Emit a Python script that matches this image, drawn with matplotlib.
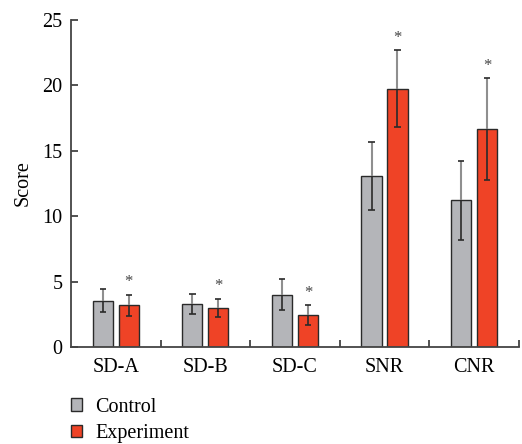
import numpy as np
import matplotlib.pyplot as plt

plt.rcParams['font.family'] = 'Liberation Serif'

categories = ['SD-A', 'SD-B', 'SD-C', 'SNR', 'CNR']
control = [3.55, 3.3, 4.0, 13.1, 11.2]
control_err = [0.85, 0.75, 1.2, 2.6, 3.0]
experiment = [3.2, 3.0, 2.45, 19.75, 16.65]
experiment_err = [0.8, 0.7, 0.78, 2.97, 3.9]
significant = [True, True, True, True, True]

gray = '#b4b5b9'
red = '#ef4326'
edge = '#2a2a2a'

fig = plt.figure(figsize=(5.22, 4.44), dpi=100)
ax = fig.add_axes([0.136, 0.2185, 0.858, 0.7365])

x = np.arange(len(categories))
w = 0.225
off = 0.145

def draw_group(pos, vals, errs, color, label):
    ax.bar(pos, vals, w, color=color, edgecolor=edge, linewidth=1.0, label=label, zorder=2)
    vals = np.array(vals)
    errs = np.array(errs)
    # lower part of whisker inside the bar, upper part lighter
    ax.vlines(pos, vals - errs, vals, color=edge, linewidth=1.2, zorder=3)
    ax.vlines(pos, vals, vals + errs, color='#8f8f8f', linewidth=1.5, zorder=3)
    cw = 0.035
    ax.hlines(vals + errs, pos - cw, pos + cw, color=edge, linewidth=1.2, zorder=4)
    ax.hlines(vals - errs, pos - cw, pos + cw, color=edge, linewidth=1.2, zorder=4)

draw_group(x - off, control, control_err, gray, 'Control')
draw_group(x + off, experiment, experiment_err, red, 'Experiment')

for xi, v, e, s in zip(x + off, experiment, experiment_err, significant):
    if s:
        ax.annotate('*', (xi, v + e), xytext=(0, 3), textcoords='offset points',
                    ha='center', va='bottom', fontsize=12, color='#444444')

ax.set_xlim(-0.5, 4.5)
ax.set_ylim(0, 25)
ax.set_yticks([0, 5, 10, 15, 20, 25])
ax.set_xticks(x)
ax.set_xticklabels(categories)
ax.set_xticks(x + 0.5, minor=True)
ax.tick_params(axis='x', which='major', length=0, pad=8, labelsize=14.5)
ax.tick_params(axis='x', which='minor', direction='in', length=5, width=1.2, color='#333333')
ax.tick_params(axis='y', direction='in', length=5, width=1.2, color='#333333', labelsize=14.5, pad=6)
for sp in ['top', 'right']:
    ax.spines[sp].set_visible(False)
for sp in ['left', 'bottom']:
    ax.spines[sp].set_color('#444444')
    ax.spines[sp].set_linewidth(1.3)
ax.set_ylabel('Score', fontsize=14.5, labelpad=7)

fig.legend(loc='upper left', bbox_to_anchor=(0.117, 0.127), frameon=False,
           fontsize=14.5, handlelength=0.55, handleheight=0.55, handletextpad=0.65,
           labelspacing=0.38, borderpad=0)

fig.savefig('out.png', dpi=100)
